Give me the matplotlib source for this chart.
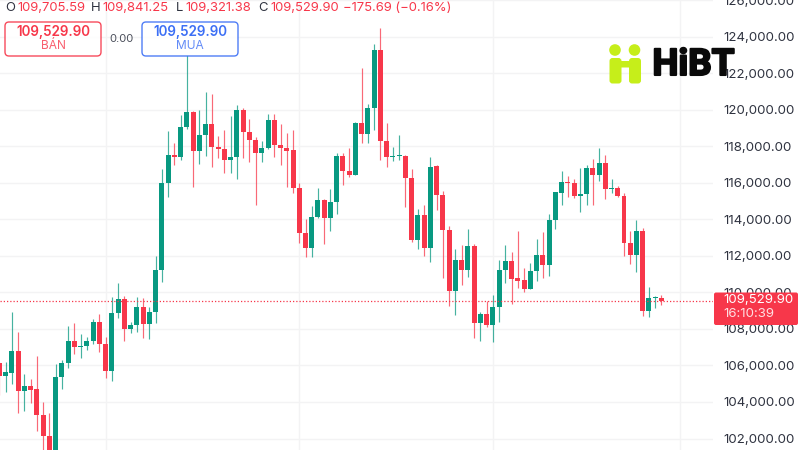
import matplotlib
matplotlib.use("Agg")
import matplotlib.pyplot as plt
from matplotlib.patches import FancyBboxPatch, Circle
import matplotlib.patheffects as pe

plt.rcParams['font.family'] = ['Inter', 'DejaVu Sans']

opens = [106113,105439,105603,106788,104599,104891,104691,103286,102119,100550,105366,106132,107354,106989,107044,107335,108393,107171,105676,108849,109615,107974,108211,109214,108247,108904,111239,115999,117495,117422,119064,119848,117732,118590,119191,117969,117860,117258,117386,119976,118754,118334,117623,117878,119428,118042,117896,117768,115707,113263,112442,114120,115032,114065,114941,117458,116656,116437,119282,118662,120085,123240,118297,117422,117440,117458,116254,112880,114230,112442,116893,115324,113427,110053,111767,111220,112552,108338,108794,108229,109214,111202,111713,110764,110655,110181,111147,112041,111512,113938,115452,116036,115981,115288,115361,116802,116437,117075,115653,115707,115269,112698,112059,113336,108995,109670,109705.59]
highs = [106200,106168,108941,107810,105548,105238,106515,104016,103377,106077,106314,108138,108302,107737,107554,108521,108795,107536,109725,110527,109780,108393,109725,109670,109196,111968,116729,118808,118188,119702,122985,119921,119976,120961,120851,118553,118881,119647,120231,120103,119483,118480,118261,119756,119775,119209,118698,118881,115999,113992,114722,115689,115087,115652,117604,117640,117878,119319,122273,120285,123587,124462,119246,117951,118589,117531,116747,114576,114777,117385,116947,115561,113628,112369,112606,113445,112624,108922,109524,109870,111749,112570,112223,113354,111311,111621,112898,113281,114303,115470,116656,116346,116181,116783,116966,117294,117914,117495,116181,115835,115415,113354,113956,113518,110308,109797,109841.25]
lows = [104381,104563,105001,103414,103523,103961,102411,100915,100550,100200,104709,105876,106642,106423,106861,107190,106734,105293,105165,108576,107335,107791,107846,107500,107463,108339,110582,115233,116966,117240,118918,115744,117021,117477,116875,117331,116547,116547,116182,117349,117149,114759,117112,117823,117422,116947,115780,115452,112716,111950,111913,114084,112643,113336,114284,115889,116327,116418,118151,118169,118881,117239,116856,117203,117239,114686,112752,112369,112004,111640,114503,110764,109250,108739,110381,110837,107481,107353,108119,107280,108393,110527,109378,110235,109998,110162,110637,110764,110892,113445,114759,115233,115142,114412,114777,114795,116109,115124,115452,115233,111986,111549,111129,108685,108667,109159,109321.38]
closes = [105439,105621,106788,104599,104891,104672,103286,102119,101097,105366,106132,107354,106989,107062,107335,108393,107171,105676,108849,109615,107974,108211,109214,108247,108904,111239,115999,117513,117422,119064,119848,117732,118590,119191,117969,117860,117258,117386,119976,118754,118334,117623,117878,119428,118042,117896,117750,115707,113263,112442,114138,115032,114065,114941,117458,116656,116418,119282,118662,120103,123240,118297,117385,117458,117495,116254,112880,114230,112442,116874,115324,113427,110053,111767,111220,112552,108338,108794,108229,109214,111202,111713,110728,110618,110181,111165,112041,111512,113956,115470,116036,115963,115288,115379,116802,116437,117075,115653,115707,115251,112679,112059,113336,108995,109688,109725,109529.90]

price_ticks = [102000,104000,106000,108000,110000,112000,114000,116000,118000,120000,122000,124000,126000]
month_starts = [17, 48, 79, 109]
current_price = 109529.90
ohlc_open, ohlc_high, ohlc_low, ohlc_close = "109,705.59", "109,841.25", "109,321.38", "109,529.90"
change_text = "\u2212175.69 (\u22120.16%)"
countdown = "16:10:39"

GREEN, RED, BLUE = "#089981", "#F7374A", "#3C6FF5"
TEXT = "#2f3340"

fig = plt.figure(figsize=(8, 4.5), dpi=100, facecolor="white")
ax = fig.add_axes([0, 0, 713/800, 1])
px_per_bar = 6.245
ax.set_xlim(0.5/px_per_bar, 713.5/px_per_bar)
ax.set_ylim(101371, 125995)
for s in ax.spines.values():
    s.set_visible(False)
ax.set_axisbelow(True)
ax.grid(True, color="#f3f3f4", lw=1.0)
ax.set_xticks(month_starts)
ax.set_yticks(price_ticks)
ax.set_yticklabels([f"{p:,.2f}" for p in price_ticks])
ax.tick_params(axis="x", length=0, labelbottom=False)
ax.tick_params(axis="y", length=0, left=False, labelleft=False, right=False,
               labelright=True, pad=7.5, labelsize=9.55, labelcolor=TEXT)

xs = list(range(len(opens)))
colors = [GREEN if c >= o else RED for o, c in zip(opens, closes)]
ax.vlines(xs, lows, highs, colors=colors, lw=0.85, zorder=2, alpha=0.75)
ax.bar(xs, [abs(c-o) for o, c in zip(opens, closes)],
       bottom=[min(o, c) for o, c in zip(opens, closes)],
       width=0.8, color=colors, linewidth=0, zorder=3)
ax.axhline(current_price, color=RED, lw=0.9, ls=(0, (1, 1.6)), zorder=4)

ov = fig.add_axes([0, 0, 1, 1], zorder=5)
ov.set_xlim(0, 800); ov.set_ylim(450, 0); ov.axis("off"); ov.patch.set_alpha(0)

def t(x, y, s, color=TEXT, size=9.4, ha="left", weight="normal", **kw):
    ov.text(x, y, s, color=color, fontsize=size, ha=ha, va="center", fontweight=weight, **kw)

t(5, 8, "O"); t(17, 8, ohlc_open, RED)
t(91, 8, "H"); t(102, 8, ohlc_high, RED)
t(176, 8, "L"); t(185, 8, ohlc_low, RED)
t(258, 8, "C"); t(270, 8, ohlc_close, RED)
t(343, 8, change_text, RED)

def button(x, w, col, price, label):
    ov.add_patch(FancyBboxPatch((x+4, 26), w-8, 26, boxstyle="round,pad=4",
                                fc="white", ec=col, lw=1.0, alpha=0.9, zorder=2))
    t(x+w/2, 32, price, col, 9.7, "center", "semibold", zorder=3)
    t(x+w/2, 46, label, col, 8.6, "center", zorder=3, alpha=0.8)

button(5, 96, RED, ohlc_close, "B\u00c1N")
button(142, 96, BLUE, ohlc_close, "MUA")
t(121.5, 39, "0.00", "#4a4e5a", 8, "center")

ov.add_patch(FancyBboxPatch((716, 294.5), 80, 28.5, boxstyle="round,pad=2",
                            fc=RED, ec="none", zorder=3))
t(723, 300, ohlc_close, "#ffffff", 9.55, zorder=4)
t(723, 314, countdown, "#ffdfe2", 9.55, zorder=4)

LIME = "#C6EE1A"
for cx in (615, 634.5):
    ov.add_patch(Circle((cx, 50), 5.8, fc=LIME, ec="none", zorder=6))
ov.add_patch(FancyBboxPatch((612.5, 61), 6, 19.5, boxstyle="round,pad=3", fc=LIME, ec="none", zorder=6))
ov.add_patch(FancyBboxPatch((632, 61), 6, 19.5, boxstyle="round,pad=3", fc=LIME, ec="none", zorder=6))
ov.add_patch(FancyBboxPatch((616, 62), 18, 4.5, boxstyle="round,pad=1", fc=LIME, ec="none", zorder=6))
ov.text(693.5, 65, "HiBT", color="#0a0a0a", fontsize=26.5, fontweight="bold", ha="center",
        va="center", zorder=7, family=["Roboto", "DejaVu Sans"],
        path_effects=[pe.withStroke(linewidth=1.5, foreground="#0a0a0a")])

fig.savefig("out.png", dpi=100)
